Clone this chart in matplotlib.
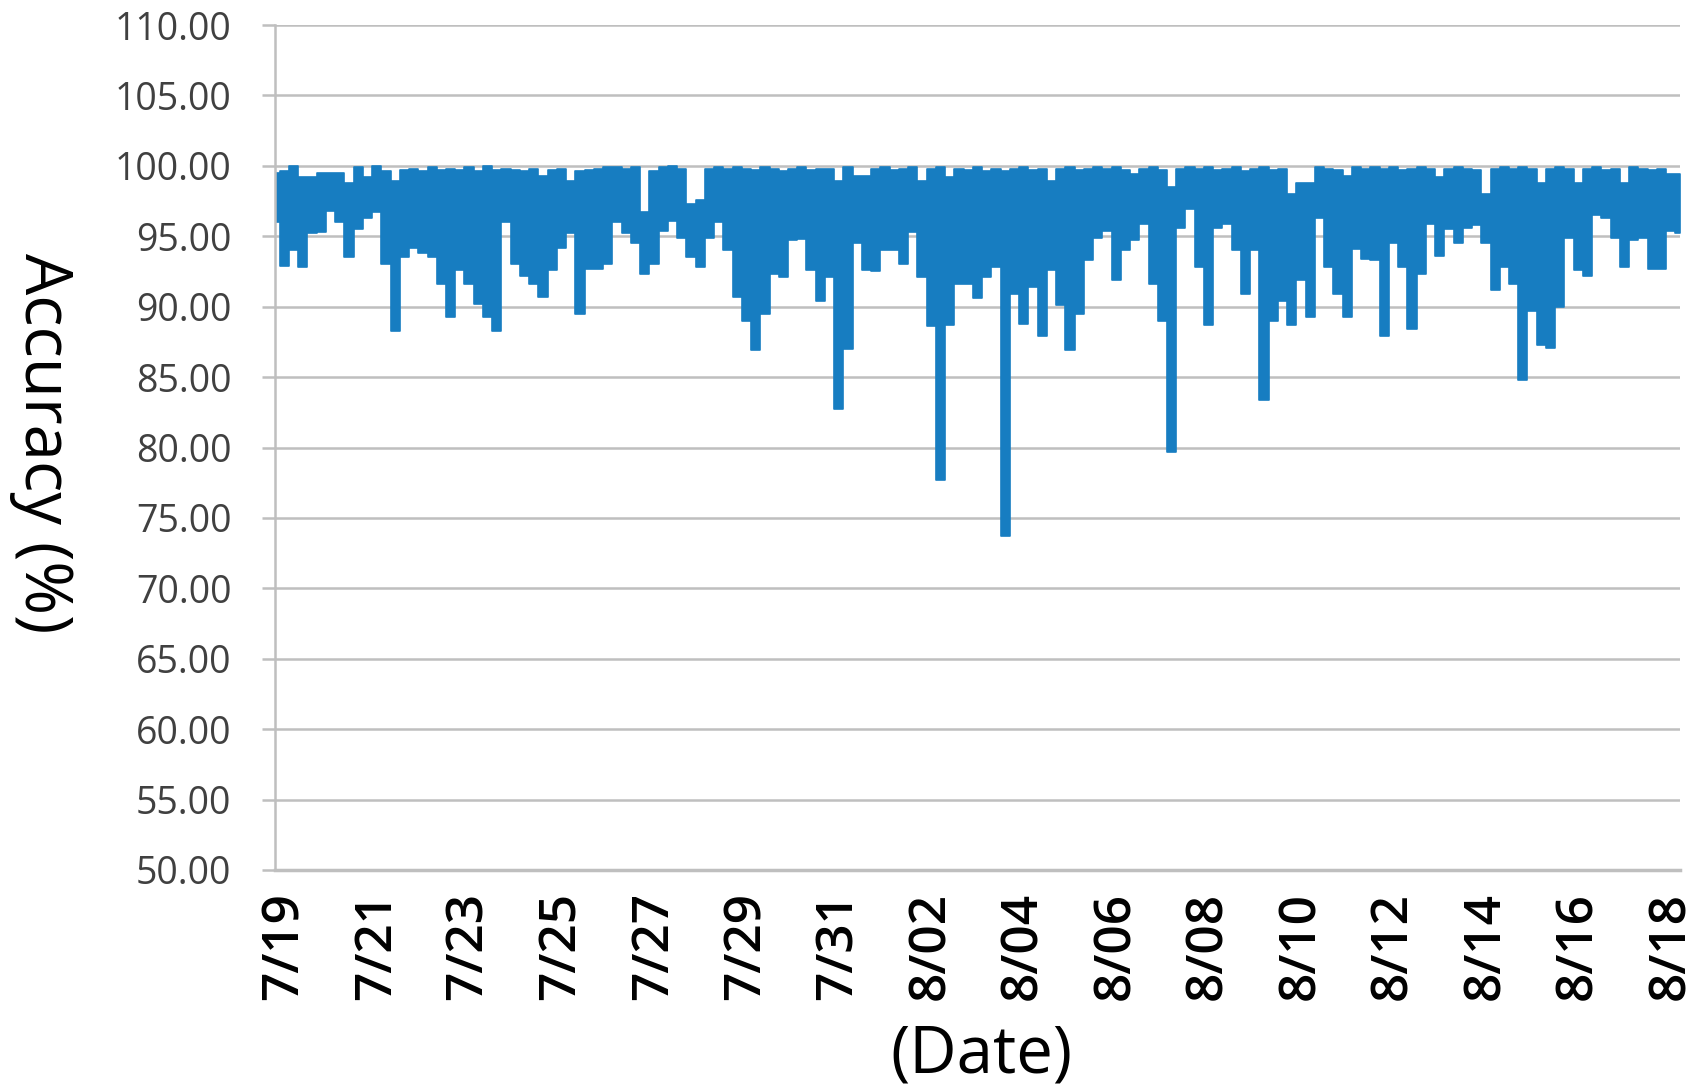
import numpy as np
import matplotlib
matplotlib.use("Agg")
import matplotlib.pyplot as plt

# min / max accuracy in each 0.2-day slot (first slot = 7/18 evening)
low = [
    96.0, 92.9, 94.0, 92.8, 95.2, 95.3, 96.8, 96.0, 93.5, 95.5,
    96.3, 96.7, 93.0, 88.3, 93.5, 94.2, 93.8, 93.5, 91.6, 89.3,
    92.6, 91.6, 90.2, 89.3, 88.3, 96.0, 93.0, 92.2, 91.6, 90.7,
    92.6, 94.2, 95.2, 89.5, 92.7, 92.7, 93.0, 96.0, 95.2, 94.5,
    92.3, 93.0, 95.4, 96.1, 94.9, 93.5, 92.8, 94.9, 96.0, 94.0,
    90.7, 89.0, 86.9, 89.5, 92.3, 92.1, 94.7, 94.8, 92.6, 90.4,
    92.1, 82.7, 87.0, 94.5, 92.6, 92.5, 94.0, 94.0, 93.0, 95.3,
    92.1, 88.6, 77.7, 88.7, 91.6, 91.6, 90.6, 92.1, 92.8, 73.7,
    90.9, 88.8, 91.4, 87.9, 92.6, 90.1, 86.9, 89.5, 93.3, 94.9,
    95.4, 91.9, 94.0, 94.7, 95.9, 91.6, 89.0, 79.7, 95.6, 96.9,
    92.8, 88.7, 95.6, 95.9, 94.0, 90.9, 94.0, 83.4, 89.0, 90.4,
    88.7, 91.9, 89.3, 96.3, 92.8, 90.9, 89.3, 94.1, 93.4, 93.3,
    87.9, 94.5, 92.8, 88.4, 92.3, 95.9, 93.6, 95.5, 94.5, 95.6,
    95.8, 94.5, 91.2, 92.8, 91.6, 84.8, 89.7, 87.3, 87.1, 90.0,
    94.9, 92.6, 92.2, 96.5, 96.3, 94.9, 92.8, 94.7, 94.9, 92.7,
    92.7, 95.4, 95.2,
]
high = [
    99.5, 99.6, 100.0, 99.2, 99.2, 99.5, 99.5, 99.5, 98.8, 99.9,
    99.2, 100.0, 99.6, 98.9, 99.7, 99.8, 99.6, 99.9, 99.7, 99.8,
    99.7, 99.9, 99.6, 100.0, 99.7, 99.8, 99.7, 99.6, 99.8, 99.3,
    99.7, 99.8, 98.9, 99.6, 99.7, 99.8, 99.9, 99.9, 99.8, 99.9,
    96.7, 99.6, 99.9, 100.0, 99.8, 97.3, 97.6, 99.8, 99.9, 99.8,
    99.9, 99.8, 99.7, 99.9, 99.8, 99.6, 99.8, 99.9, 99.7, 99.8,
    99.8, 98.9, 99.9, 99.3, 99.3, 99.8, 99.9, 99.7, 99.8, 99.9,
    98.9, 99.8, 99.9, 99.2, 99.8, 99.7, 99.9, 99.6, 99.8, 99.6,
    99.8, 99.9, 99.7, 99.8, 98.9, 99.8, 99.9, 99.7, 99.8, 99.9,
    99.8, 99.9, 99.7, 99.4, 99.8, 99.9, 99.7, 98.5, 99.8, 99.9,
    99.8, 99.9, 99.7, 99.8, 99.9, 99.6, 99.8, 99.9, 99.7, 99.8,
    98.0, 98.8, 98.8, 99.9, 99.8, 99.7, 99.3, 99.9, 99.8, 99.9,
    99.8, 99.9, 99.7, 99.8, 99.9, 99.8, 99.2, 99.8, 99.9, 99.8,
    99.7, 98.0, 99.8, 99.9, 99.8, 99.9, 99.8, 98.8, 99.8, 99.9,
    99.8, 98.8, 99.8, 99.9, 99.7, 99.8, 98.8, 99.9, 99.8, 99.7,
    99.8, 99.4, 99.4,
]
slot = 0.2  # days
date_labels = ["7/19", "7/21", "7/23", "7/25", "7/27", "7/29", "7/31", "8/02",
               "8/04", "8/06", "8/08", "8/10", "8/12", "8/14", "8/16", "8/18"]

days = -slot + slot * np.arange(len(low))  # days since 7/19

plt.rcParams["font.family"] = ["Open Sans", "DejaVu Sans"]
blue = "#177DC1"
grey = "#BFBFBF"

fig = plt.figure(figsize=(17, 10.91), dpi=100)
ax = fig.add_axes([275 / 1700, 1 - 870 / 1091, 1405 / 1700, 845 / 1091])

ax.fill_between(days, low, high, step="mid", color=blue, lw=1.2, edgecolor=blue,
                joinstyle="round")

ax.set_xlim(days[0], days[-1])
ax.set_ylim(50, 110)
ax.set_yticks(np.arange(50, 111, 5))
ax.set_yticklabels(["%.2f" % v for v in np.arange(50, 111, 5)])
ax.set_xticks(np.arange(0, 31, 2))
ax.set_xticklabels(date_labels, rotation=90, fontweight="semibold")

ax.set_axisbelow(True)
ax.yaxis.grid(True, color=grey, lw=1.8)
for side in ["top", "right"]:
    ax.spines[side].set_visible(False)
ax.spines["left"].set_color(grey)
ax.spines["left"].set_linewidth(1.8)
ax.spines["bottom"].set_color(grey)
ax.spines["bottom"].set_linewidth(2.5)

ax.tick_params(axis="y", length=9.5, width=1.8, color=grey, pad=22,
               labelsize=27, labelcolor="#404040")
ax.tick_params(axis="x", length=0, pad=16, labelsize=37, labelcolor="black")

ax.set_ylabel("Accuracy (%)", fontsize=47, rotation=-90, va="center", ha="center")
ax.yaxis.set_label_coords(-0.166, 0.505)
ax.set_xlabel("(Date)", fontsize=47, va="center", ha="center")
ax.xaxis.set_label_coords(0.503, -0.220)

fig.savefig("out.png", dpi=100)
